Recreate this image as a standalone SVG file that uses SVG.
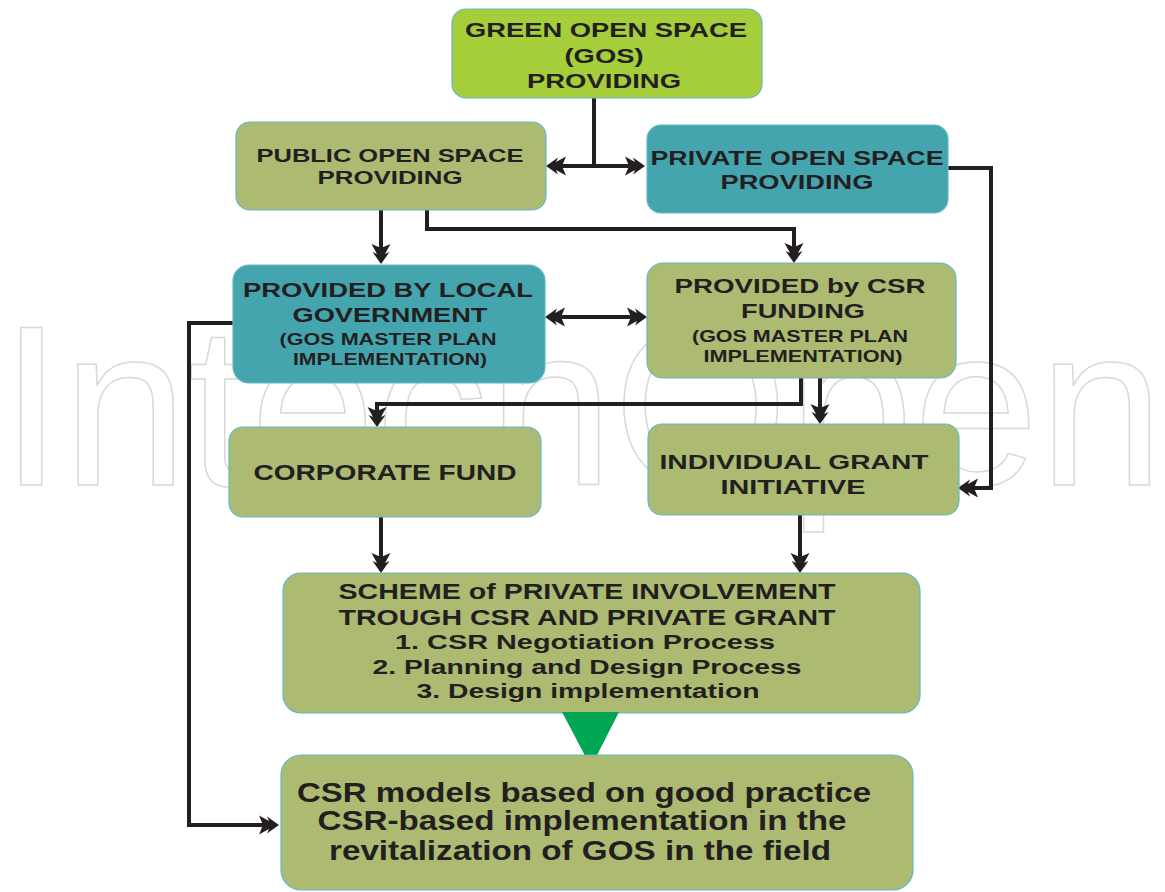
<svg xmlns="http://www.w3.org/2000/svg" width="1165" height="892" viewBox="0 0 1165 892">
<defs>
<style>
.box{stroke:#62b9c7;stroke-width:1.2}
.lime{fill:#a6cd3a}
.olive{fill:#adba72}
.teal{fill:#45a5af}
.t{font-family:"Liberation Sans",Arial,sans-serif;font-weight:bold;fill:#231f20;text-anchor:middle}
.c{fill:none;stroke:#231f20;stroke-width:4;stroke-linejoin:miter}
.wm{font-family:"Liberation Sans",Arial,sans-serif;font-size:228px;fill:none;stroke:#d8d8d8;stroke-width:1.5}
</style>
<marker id="ah" markerUnits="userSpaceOnUse" viewBox="-10 -12 24 24" markerWidth="24" markerHeight="24" refX="0" refY="0" orient="auto-start-reverse">
<path d="M12,0 L0,-8.5 L2,-4 L-8,-9.5 L-4,0 L-8,9.5 L2,4 L0,8.5 Z" fill="#231f20"/>
</marker>
</defs>
<rect width="1165" height="892" fill="#ffffff"/>
<text class="wm" x="0" y="485" textLength="1164" lengthAdjust="spacingAndGlyphs">IntechOpen</text>

<g id="connectors">
<path class="c" d="M594,98 V166"/>
<path class="c" d="M558,166 H633" marker-start="url(#ah)" marker-end="url(#ah)"/>
<path class="c" d="M381,210 V252" marker-end="url(#ah)"/>
<path class="c" d="M427,210 V229 H794 V251" marker-end="url(#ah)"/>
<path class="c" d="M557,317 H635" marker-start="url(#ah)" marker-end="url(#ah)"/>
<path class="c" d="M948,168 H991 V488 H970" marker-end="url(#ah)"/>
<path class="c" d="M233,323 H189 V825 H267" marker-end="url(#ah)"/>
<path class="c" d="M801,378 V404 H377 V415" marker-end="url(#ah)"/>
<path class="c" d="M820,378 V412" marker-end="url(#ah)"/>
<path class="c" d="M381,517 V561" marker-end="url(#ah)"/>
<path class="c" d="M800,515 V561" marker-end="url(#ah)"/>
</g>

<g id="gos">
<rect class="box lime" x="452" y="9" width="310" height="89" rx="14"/>
<text class="t" font-size="20" x="606" y="37" textLength="282" lengthAdjust="spacingAndGlyphs">GREEN OPEN SPACE</text>
<text class="t" font-size="20" x="604" y="63" textLength="79" lengthAdjust="spacingAndGlyphs">(GOS)</text>
<text class="t" font-size="20" x="604" y="88" textLength="154" lengthAdjust="spacingAndGlyphs">PROVIDING</text>
</g>

<g id="public">
<rect class="box olive" x="236" y="122" width="310" height="88" rx="14"/>
<text class="t" font-size="19" x="390" y="162" textLength="267" lengthAdjust="spacingAndGlyphs">PUBLIC OPEN SPACE</text>
<text class="t" font-size="19" x="390" y="184" textLength="145" lengthAdjust="spacingAndGlyphs">PROVIDING</text>
</g>

<g id="private">
<rect class="box teal" x="647" y="125" width="301" height="88" rx="14"/>
<text class="t" font-size="20" x="797" y="165" textLength="293" lengthAdjust="spacingAndGlyphs">PRIVATE OPEN SPACE</text>
<text class="t" font-size="20" x="797" y="189" textLength="153" lengthAdjust="spacingAndGlyphs">PROVIDING</text>
</g>

<g id="localgov">
<rect class="box teal" x="233" y="265" width="312" height="118" rx="16"/>
<text class="t" font-size="21" x="388" y="297" textLength="290" lengthAdjust="spacingAndGlyphs">PROVIDED BY LOCAL</text>
<text class="t" font-size="21" x="390" y="322" textLength="195" lengthAdjust="spacingAndGlyphs">GOVERNMENT</text>
<text class="t" font-size="17" x="388" y="345" textLength="217" lengthAdjust="spacingAndGlyphs">(GOS MASTER PLAN</text>
<text class="t" font-size="17" x="390" y="365" textLength="194" lengthAdjust="spacingAndGlyphs">IMPLEMENTATION)</text>
</g>

<g id="csrfunding">
<rect class="box olive" x="647" y="263" width="309" height="115" rx="16"/>
<text class="t" font-size="21" x="800" y="293" textLength="251" lengthAdjust="spacingAndGlyphs">PROVIDED by CSR</text>
<text class="t" font-size="21" x="803" y="318" textLength="124" lengthAdjust="spacingAndGlyphs">FUNDING</text>
<text class="t" font-size="17" x="800" y="342" textLength="216" lengthAdjust="spacingAndGlyphs">(GOS MASTER PLAN</text>
<text class="t" font-size="17" x="803" y="362" textLength="199" lengthAdjust="spacingAndGlyphs">IMPLEMENTATION)</text>
</g>

<g id="corporate">
<rect class="box olive" x="229" y="427" width="312" height="90" rx="14"/>
<text class="t" font-size="22" x="385" y="480" textLength="263" lengthAdjust="spacingAndGlyphs">CORPORATE FUND</text>
</g>

<g id="individual">
<rect class="box olive" x="648" y="424" width="311" height="91" rx="14"/>
<text class="t" font-size="21" x="794" y="469" textLength="269" lengthAdjust="spacingAndGlyphs">INDIVIDUAL GRANT</text>
<text class="t" font-size="21" x="793" y="494" textLength="145" lengthAdjust="spacingAndGlyphs">INITIATIVE</text>
</g>

<g id="scheme">
<rect class="box olive" x="283" y="573" width="637" height="140" rx="18"/>
<text class="t" font-size="22" x="587" y="599" textLength="497" lengthAdjust="spacingAndGlyphs">SCHEME of PRIVATE INVOLVEMENT</text>
<text class="t" font-size="22" x="587" y="625" textLength="497" lengthAdjust="spacingAndGlyphs">TROUGH CSR AND PRIVATE GRANT</text>
<text class="t" font-size="21" x="585" y="649" textLength="380" lengthAdjust="spacingAndGlyphs">1. CSR Negotiation Process</text>
<text class="t" font-size="21" x="587" y="674" textLength="429" lengthAdjust="spacingAndGlyphs">2. Planning and Design Process</text>
<text class="t" font-size="21" x="588" y="698" textLength="343" lengthAdjust="spacingAndGlyphs">3. Design implementation</text>
</g>

<g id="green-arrow">
<polygon points="562,712 619,712 591,767" fill="#00a651"/>
</g>

<g id="csrmodels">
<rect class="box olive" x="281" y="755" width="632" height="135" rx="20"/>
<text class="t" font-size="28" x="584" y="802" textLength="574" lengthAdjust="spacingAndGlyphs">CSR models based on good practice</text>
<text class="t" font-size="28" x="582" y="830" textLength="529" lengthAdjust="spacingAndGlyphs">CSR-based implementation in the</text>
<text class="t" font-size="28" x="580" y="860" textLength="502" lengthAdjust="spacingAndGlyphs">revitalization of GOS in the field</text>
</g>
</svg>
